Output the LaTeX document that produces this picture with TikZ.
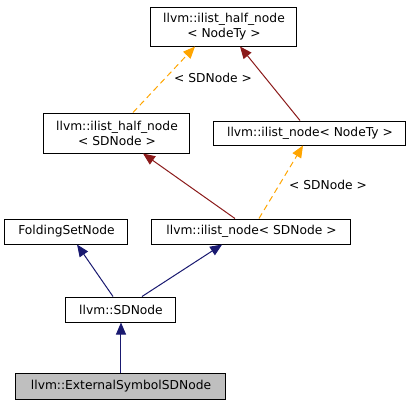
\documentclass[tikz,border=0pt]{standalone}
\usepackage{fontspec}
\setmainfont{DejaVu Sans}
\usetikzlibrary{arrows.meta}

\definecolor{edgeblue}{RGB}{25,25,112}
\definecolor{edgered}{RGB}{139,26,26}
\definecolor{edgeorange}{RGB}{255,165,0}
\definecolor{nodegray}{RGB}{191,191,191}

\tikzset{
  classbox/.style={draw=black, fill=white, inner sep=0pt, align=center, line width=0.75pt,
    font=\fontsize{9.2}{11.2}\selectfont},
  pub/.style={draw=edgeblue, line width=0.75pt, -{Triangle[length=9pt,width=7.5pt]}},
  prot/.style={draw=edgered, line width=0.75pt, -{Triangle[length=9pt,width=7.5pt]}},
  tmpl/.style={draw=edgeorange, line width=0.75pt, dash pattern=on 4.5pt off 3pt, -{Triangle[length=9pt,width=7.5pt]}},
  tmpllabel/.style={font=\fontsize{9.2}{11.2}\selectfont}
}

\begin{document}
\begin{tikzpicture}[x=0.75pt, y=-0.75pt]
  \useasboundingbox (0,0) rectangle (412,405);
  \node[classbox, minimum width=109.5pt, minimum height=29.25pt] (hnty) at (224,26.5) {llvm::ilist\_half\_node\\< NodeTy >};
  \node[classbox, minimum width=109.5pt, minimum height=30pt] (hsd) at (117,133) {llvm::ilist\_half\_node\\< SDNode >};
  \node[classbox, minimum width=144pt, minimum height=18pt] (inty) at (310,133) {llvm::ilist\_node< NodeTy >};
  \node[classbox, minimum width=92.25pt, minimum height=18.75pt] (fsn) at (66.5,231.5) {FoldingSetNode};
  \node[classbox, minimum width=149.25pt, minimum height=18.75pt] (isd) at (251.5,231.5) {llvm::ilist\_node< SDNode >};
  \node[classbox, minimum width=82.5pt, minimum height=18.75pt] (sdn) at (121,309.5) {llvm::SDNode};
  \node[classbox, fill=nodegray, minimum width=157.5pt, minimum height=19.5pt] (ext) at (121,386) {llvm::ExternalSymbolSDNode};

  % template instances
  \draw[tmpl] ([xshift=12pt]hsd.north) -- ([xshift=-21.75pt]hnty.south);
  \node[tmpllabel] (lab1) at (213,78) {< SDNode >};
  \draw[tmpl] ([xshift=5.6pt]isd.north) -- ([xshift=-5.25pt]inty.south);
  \node[tmpllabel] (lab2) at (328,185) {< SDNode >};

  % protected inheritance
  \draw[prot] ([xshift=-7.5pt]inty.north) -- ([xshift=12pt]hnty.south);
  \draw[prot] ([xshift=-12.4pt]isd.north) -- ([xshift=19.5pt]hsd.south);

  % public inheritance
  \draw[pub] ([xshift=-6pt]sdn.north) -- ([xshift=7.9pt]fsn.south);
  \draw[pub] ([xshift=15.75pt]sdn.north) -- ([xshift=-22pt]isd.south);
  \draw[pub] (ext) -- (sdn);
\end{tikzpicture}
\end{document}
